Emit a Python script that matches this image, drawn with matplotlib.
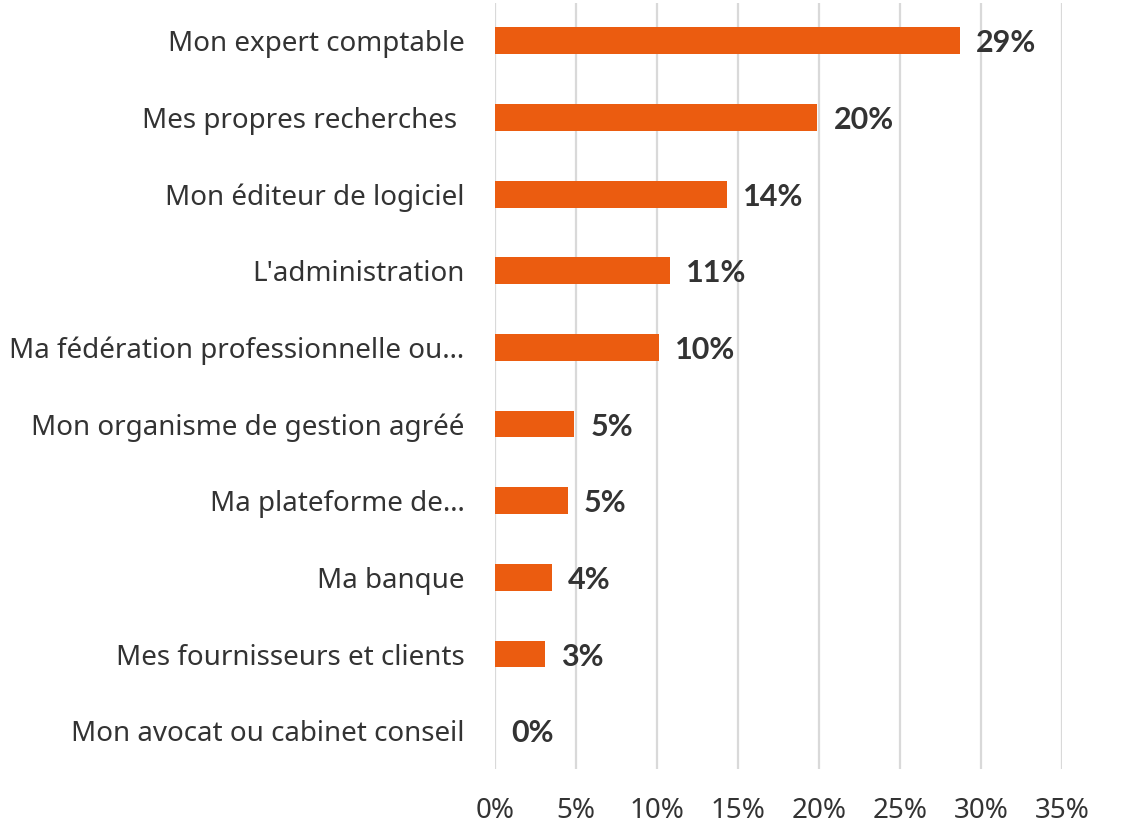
import matplotlib
matplotlib.use("Agg")
import matplotlib.pyplot as plt
from matplotlib.ticker import FuncFormatter

categories = [
    "Mon expert comptable",
    "Mes propres recherches ",
    "Mon éditeur de logiciel",
    "L'administration",
    "Ma fédération professionnelle ou…",
    "Mon organisme de gestion agréé",
    "Ma plateforme de…",
    "Ma banque",
    "Mes fournisseurs et clients",
    "Mon avocat ou cabinet conseil",
]
values = [28.7, 19.9, 14.3, 10.8, 10.1, 4.9, 4.5, 3.5, 3.1, 0.0]
labels = ["29%", "20%", "14%", "11%", "10%", "5%", "5%", "4%", "3%", "0%"]
xticks = [0, 5, 10, 15, 20, 25, 30, 35]

plt.rcParams['font.family'] = ['Noto Sans', 'DejaVu Sans']
text_color = "#333333"

fig = plt.figure(figsize=(11.22, 8.26), dpi=100)
ax = fig.add_axes([495/1122, (826-769)/826, (1062-495)/1122, (769-2.5)/826])

y = list(range(len(categories)))
ax.barh(y, values, height=0.35, color="#EB5C10", zorder=3)
ax.set_ylim(len(categories) - 0.5, -0.5)
ax.set_xlim(0, 35)
ax.set_yticks(y)
ax.set_yticklabels(categories, fontsize=20, color=text_color)
ax.set_xticks(xticks)
ax.xaxis.set_major_formatter(FuncFormatter(lambda v, p: f"{v:.0f}%"))
for t in ax.get_xticklabels():
    t.set_fontsize(20)
    t.set_color(text_color)
for t in ax.get_yticklabels():
    t.set_verticalalignment('center_baseline')
ax.tick_params(axis='both', length=0)
ax.tick_params(axis='y', pad=22)
ax.tick_params(axis='x', pad=20)
ax.grid(axis='x', color="#d9d9d9", linewidth=1.6, zorder=0)
for s in ax.spines.values():
    s.set_visible(False)

for yi, v, lab in zip(y, values, labels):
    ax.annotate(lab, xy=(v, yi), xytext=(16, 0), textcoords='offset pixels',
                ha='left', va='center_baseline', fontsize=22, fontweight='bold',
                family=['Lato', 'DejaVu Sans'], color=text_color)

fig.savefig("out.png", dpi=100)
